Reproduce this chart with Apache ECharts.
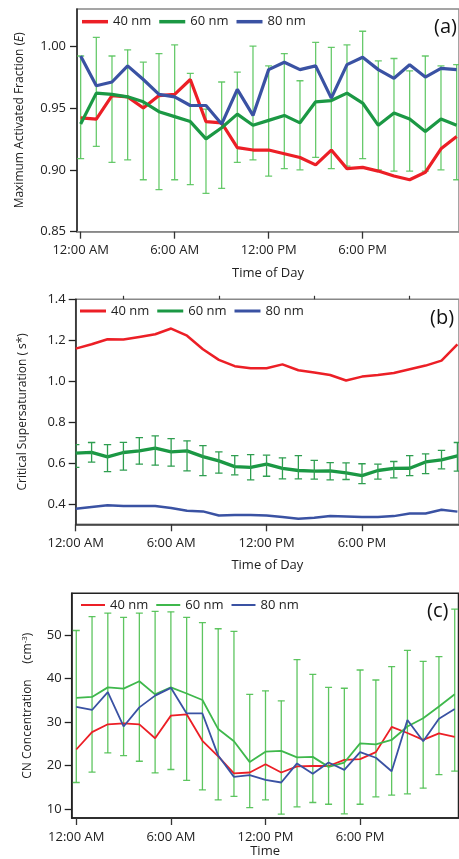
<!DOCTYPE html>
<html><head><meta charset="utf-8">
<script src="https://cdn.jsdelivr.net/npm/echarts@6/dist/echarts.min.js"></script>
<style>html,body{margin:0;padding:0;background:#fff}#c{width:459px;height:859px}</style>
</head><body><div id="c"></div>
<script>
// ---------- shared ----------
const hours = [0,1,2,3,4,5,6,7,8,9,10,11,12,13,14,15,16,17,18,19,20,21,22,23,24];
const xTickHours = [0,6,12,18];
const xMinorHours = [3,9,15,21];
const xTickLabels = ['12:00 AM','6:00 AM','12:00 PM','6:00 PM'];
const seriesNames = ['40 nm','60 nm','80 nm'];

// ---------- (a) Maximum Activated Fraction ----------
const fracTicks = [0.85,0.90,0.95,1.00];
const frac40 = [0.942,0.941,0.960,0.959,0.950,0.960,0.961,0.973,0.939,0.938,0.918,0.916,0.916,0.913,0.910,0.904,0.916,0.901,0.902,0.899,0.895,0.892,0.898,0.917,0.927];
const frac60 = [0.937,0.962,0.961,0.959,0.955,0.947,0.943,0.939,0.925,0.934,0.945,0.936,0.940,0.944,0.938,0.955,0.956,0.962,0.954,0.936,0.946,0.941,0.931,0.941,0.936];
const frac80 = [0.992,0.968,0.971,0.984,0.973,0.961,0.959,0.952,0.952,0.937,0.965,0.944,0.981,0.987,0.981,0.984,0.958,0.985,0.991,0.981,0.974,0.985,0.975,0.982,0.981];
const frac60Upper = [0.992,1.007,0.992,0.997,0.987,0.994,1.001,0.978,0.949,0.971,0.979,1.000,0.984,0.994,0.972,1.003,0.999,1.001,1.012,0.988,0.990,0.980,0.992,0.984,0.985];
const frac60Lower = [0.909,0.919,0.906,0.908,0.892,0.884,0.892,0.888,0.881,0.885,0.906,0.908,0.895,0.901,0.900,0.910,0.901,0.903,0.909,0.900,0.899,0.899,0.899,0.900,0.892];

// ---------- (b) Critical Supersaturation ----------
const ssTicks = [0.4,0.6,0.8,1.0,1.2,1.4];
const ss40 = [1.159,1.180,1.205,1.203,1.216,1.229,1.257,1.222,1.156,1.104,1.073,1.063,1.063,1.082,1.053,1.042,1.030,1.003,1.022,1.030,1.040,1.058,1.076,1.100,1.180];
const ss60 = [0.648,0.652,0.630,0.651,0.659,0.672,0.654,0.659,0.631,0.610,0.582,0.578,0.594,0.573,0.563,0.560,0.561,0.551,0.538,0.563,0.573,0.574,0.605,0.615,0.635];
const ss80 = [0.376,0.385,0.393,0.390,0.390,0.389,0.380,0.366,0.363,0.343,0.345,0.346,0.343,0.336,0.327,0.332,0.340,0.338,0.336,0.336,0.340,0.353,0.353,0.371,0.362];
const ss60Upper = [0.690,0.700,0.690,0.701,0.724,0.732,0.719,0.708,0.685,0.654,0.636,0.641,0.638,0.625,0.636,0.613,0.602,0.600,0.596,0.594,0.607,0.636,0.644,0.661,0.700];
const ss60Lower = [0.578,0.604,0.558,0.565,0.594,0.589,0.584,0.561,0.538,0.550,0.542,0.517,0.535,0.522,0.522,0.521,0.517,0.519,0.499,0.521,0.527,0.538,0.548,0.571,0.560];

// ---------- (c) CN Concentration ----------
const cnTicks = [10,20,30,40,50];
const cn40 = [23.7,27.7,29.5,29.7,29.5,26.3,31.5,31.8,25.7,22.1,18.2,18.4,20.3,18.4,19.8,19.9,19.9,21.3,21.5,23.1,28.9,27.5,25.9,27.4,26.6];
const cn60 = [35.6,35.8,38.0,37.7,39.4,36.4,38.0,36.6,35.1,28.4,25.6,20.8,23.2,23.4,21.9,22.0,19.7,20.7,25.1,24.9,25.9,29.0,30.9,33.6,36.4];
const cn80 = [33.5,32.8,36.9,29.0,33.4,36.1,37.9,32.0,32.0,22.3,17.4,17.8,16.7,16.1,20.5,18.1,20.7,19.0,23.1,21.8,18.7,30.5,25.6,30.8,33.0];
const cn60Upper = [51.1,54.3,55.1,54.1,55.1,55.5,55.4,54.1,52.9,51.5,50.9,36.4,37.2,34.9,44.4,41.0,38.0,37.8,42.0,39.7,42.8,46.5,44.0,45.1,56.0];
const cn60Lower = [16.1,18.5,22.9,22.3,21.0,18.3,19.1,16.6,14.4,12.1,12.9,10.3,12.1,8.8,10.5,11.5,11.1,8.9,11.1,12.8,13.2,13.5,14.8,17.9,18.7];

// ---------- styles ----------
const FONT = 'Open Sans';
const RED = '#ec1f26', GREEN = '#1b9844', BLUE = '#3a52a3', GREEN_C = '#3fb84c';
const TXT = '#222';

function pairs(arr){ return hours.map((h,i)=>[h, arr[i]]); }
function errData(lo, hi){ return hours.map((h,i)=>[h, lo[i], hi[i]]); }
function errRender(capHalf, color, width, opacity){
  return function(params, api){
    const x = api.value(0), lo = api.value(1), hi = api.value(2);
    const pHi = api.coord([x, hi]), pLo = api.coord([x, lo]);
    const st = {stroke: color, lineWidth: width, opacity: opacity};
    const cs = params.coordSys;
    return {type:'group',
      clipPath:{type:'rect', shape:{x:cs.x, y:cs.y-1, width:cs.width, height:cs.height+2}},
      children:[
        {type:'line', shape:{x1:pHi[0], y1:pHi[1], x2:pLo[0], y2:pLo[1]}, style:st},
        {type:'line', shape:{x1:pHi[0]-capHalf, y1:pHi[1], x2:pHi[0]+capHalf, y2:pHi[1]}, style:st},
        {type:'line', shape:{x1:pLo[0]-capHalf, y1:pLo[1], x2:pLo[0]+capHalf, y2:pLo[1]}, style:st}
      ]};
  };
}
function xLabelFmt(v){ const i = xTickHours.indexOf(Math.round(v)); return i >= 0 ? xTickLabels[i] : ''; }

function xAxisCfg(gi, min, max, lineColor, nameText, nameGap, margin){
  return {
    type:'value', gridIndex: gi, min: min, max: max,
    axisLine:{show:true, onZero:false, lineStyle:{color: lineColor, width: 1.5}},
    axisTick:{show:true, customValues: xTickHours, length: 7, lineStyle:{color:'#333', width:1.3}},
    axisLabel:{customValues: xTickHours, formatter: xLabelFmt, fontFamily: FONT, fontSize: 13, color: TXT, margin: margin},
    splitLine:{show:false},
    name: nameText, nameLocation:'middle', nameGap: nameGap,
    nameTextStyle:{fontFamily: FONT, fontSize: 13, color: TXT}
  };
}
function yAxisCfg(gi, min, max, ticks, fmt, nameText, nameGap, rich, margin){
  return {
    type:'value', gridIndex: gi, min: min, max: max,
    axisLine:{show:true, onZero:false, lineStyle:{color:'#222', width:1.5}},
    axisTick:{show:true, customValues: ticks, length: 7, lineStyle:{color:'#222', width:1.3}},
    axisLabel:{customValues: ticks, formatter: fmt, fontFamily: FONT, fontSize: 13, color: TXT, margin: margin},
    splitLine:{show:false},
    name: nameText, nameLocation:'middle', nameGap: nameGap,
    nameTextStyle:{fontFamily: FONT, fontSize: 12, color: TXT, rich: rich}
  };
}
function legendCfg(left, top, iw, ih, colors){
  return {
    left: left, top: top, padding: 0, itemGap: 8, itemWidth: iw, itemHeight: ih, icon:'rect',
    textStyle:{fontFamily: FONT, fontSize: 13, color: TXT, lineHeight: 16},
    data: seriesNames.map((n,i)=>({name:n, itemStyle:{color: colors[i], borderWidth:0}}))
  };
}
function lineS(name, xi, data, color, width){
  return {type:'line', name: name, xAxisIndex: xi, yAxisIndex: xi, data: data, showSymbol:false, symbol:'none',
    lineStyle:{color: color, width: width}, itemStyle:{color: color}, z: 3, animation:false};
}

const chart = echarts.init(document.getElementById('c'), null, {renderer:'canvas'});
const option = {
  animation:false,
  backgroundColor:'#fff',
  grid:[
    {left:77, top:9, width:387, height:222.7, show:true, borderColor:'#888', borderWidth:1.5, backgroundColor:'transparent'},
    {left:75.7, top:299.3, width:388.3, height:225, show:true, borderColor:'#888', borderWidth:1.5, backgroundColor:'transparent'},
    {left:71.7, top:593.3, width:386.8, height:225, show:true, borderColor:'#222', borderWidth:1.5, backgroundColor:'transparent'}
  ],
  xAxis:[
    xAxisCfg(0, -0.233, 24.15, '#888', 'Time of Day', 35, 12),
    xAxisCfg(1, 0, 24.10, '#333', 'Time of Day', 34, 12.5),
    xAxisCfg(2, -0.29, 24.24, '#222', 'Time', 27, 13),
    {type:'value', gridIndex:1, min:0, max:24.10, axisLine:{show:false}, axisLabel:{show:false},
     axisTick:{show:true, customValues: xMinorHours, length: 3.5, lineStyle:{color:'#333', width:1.2}}, splitLine:{show:false}}
  ],
  yAxis:[
    yAxisCfg(0, 0.85, 1.03, fracTicks, v=>v.toFixed(2), 'Maximum Activated Fraction ({it|E})', 51, {it:{fontStyle:'italic', fontFamily: FONT, fontSize:12, color:TXT}}, 11),
    yAxisCfg(1, 0.3, 1.4, ssTicks, v=>v.toFixed(1), 'Critical Supersaturation ( s*)', 47, {}, 10),
    yAxisCfg(2, 7.93, 59.66, cnTicks, v=>String(Math.round(v)), 'CN Concentration     (cm{sup|-3})', 37, {sup:{fontSize:8, fontFamily: FONT, color:TXT, verticalAlign:'top', padding:[0,0,6,0]}}, 10)
  ],
  legend:[
    legendCfg(82, 13.7, 26, 3.5, [RED, GREEN, BLUE]),
    legendCfg(80, 303, 26, 3, [RED, GREEN, BLUE]),
    legendCfg(81, 597, 24, 2, [RED, GREEN_C, BLUE])
  ],
  graphic:[
    {type:'text', left:434, top:17, style:{text:'(a)', font:'20px "Open Sans"', fill:'#111'}},
    {type:'text', left:430, top:308, style:{text:'(b)', font:'20px "Open Sans"', fill:'#111'}},
    {type:'text', left:427, top:601, style:{text:'(c)', font:'20px "Open Sans"', fill:'#111'}}
  ],
  series:[
    {type:'custom', name:'60 nm err a', xAxisIndex:0, yAxisIndex:0, data: errData(frac60Lower, frac60Upper), renderItem: errRender(3.5, '#58c45c', 1.3, 0.9), z:1, silent:true},
    lineS('40 nm', 0, pairs(frac40), RED, 3.2),
    lineS('60 nm', 0, pairs(frac60), GREEN, 3.2),
    lineS('80 nm', 0, pairs(frac80), BLUE, 3.2),

    lineS('40 nm', 1, pairs(ss40), RED, 2.5),
    lineS('60 nm', 1, pairs(ss60), GREEN, 3.3),
    lineS('80 nm', 1, pairs(ss80), BLUE, 2.5),
    {type:'custom', name:'60 nm err b', xAxisIndex:1, yAxisIndex:1, data: errData(ss60Lower, ss60Upper), renderItem: errRender(3.7, '#2f9e50', 1.3, 1), z:4, silent:true},

    {type:'custom', name:'60 nm err c', xAxisIndex:2, yAxisIndex:2, data: errData(cn60Lower, cn60Upper), renderItem: errRender(3.5, '#4cbf4f', 1.3, 0.9), z:1, silent:true},
    lineS('40 nm', 2, pairs(cn40), RED, 1.8),
    lineS('60 nm', 2, pairs(cn60), GREEN_C, 1.8),
    lineS('80 nm', 2, pairs(cn80), BLUE, 1.8)
  ]
};
chart.setOption(option);
</script>
</body></html>
